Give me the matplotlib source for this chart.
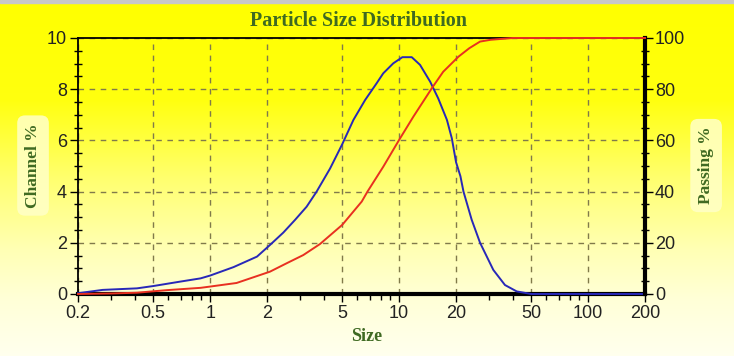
import numpy as np
import matplotlib
matplotlib.use('Agg')
import matplotlib.pyplot as plt
from matplotlib.ticker import MultipleLocator, LogLocator, NullFormatter
from matplotlib.patches import Rectangle

# channel % (left axis, blue)
size_ch = [0.2, 0.27, 0.41, 0.5, 0.69, 0.89, 1.0, 1.33, 1.77, 2.07, 2.44, 2.81, 3.24,
           3.66, 4.31, 5.0, 5.73, 6.61, 7.6, 8.24, 9.31, 10.4, 11.66, 12.9, 14.6, 16.1,
           17.9, 19.0, 20.0, 21.1, 21.9, 24.2, 26.8, 31.5, 36.3, 41.9, 50, 200]
channel = [0.03, 0.16, 0.22, 0.31, 0.48, 0.61, 0.72, 1.05, 1.46, 1.91, 2.40, 2.89, 3.41,
           4.0, 4.9, 5.85, 6.80, 7.58, 8.23, 8.62, 9.01, 9.25, 9.25, 8.95, 8.29, 7.64,
           6.80, 6.08, 5.15, 4.6, 4.0, 2.9, 2.0, 0.94, 0.35, 0.1, 0.0, 0.0]

# passing % (right axis, red)
size_pass = [0.2, 0.3, 0.41, 0.59, 0.89, 1.0, 1.38, 2.07, 2.54, 3.11, 3.81, 5.0, 6.34,
             6.8, 8.24, 10.0, 11.9, 14.9, 17.1, 20.6, 23.5, 26.8, 30.5, 34.2, 40.0, 200]
passing = [0.0, 0.2, 0.5, 1.5, 2.4, 2.9, 4.3, 8.7, 12.0, 15.2, 19.5, 27.0, 36.1,
           40.0, 49.7, 60.2, 69.3, 80.4, 86.8, 92.7, 96.0, 98.6, 99.3, 99.6, 100, 100]

xticks = [0.2, 0.5, 1, 2, 5, 10, 20, 50, 100, 200]
xlabels = ['0.2', '0.5', '1', '2', '5', '10', '20', '50', '100', '200']

label_col = '#3f6a22'
serif = 'Liberation Serif'
sans = 'Liberation Sans'

fig = plt.figure(figsize=(7.34, 3.56), dpi=100)

# yellow -> pale background gradient
bg = fig.add_axes([0, 0, 1, 1], zorder=-10)
rows = np.linspace(0, 1, 356)
blue_ch = np.interp(rows, [0, 0.28, 0.5, 0.7, 0.84, 1.0], [0, 15, 110, 180, 215, 238])
grad = np.zeros((356, 1, 3))
grad[:, 0, 0] = 1.0
grad[:, 0, 1] = 1.0
grad[:, 0, 2] = blue_ch / 255
bg.imshow(grad, aspect='auto', extent=[0, 1, 0, 1])
bg.axis('off')
fig.patches.append(Rectangle((0, 1 - 3 / 356), 1, 3 / 356, transform=fig.transFigure,
                             color='#c8c8c8', zorder=-5))

ax = fig.add_axes([0.1063, 0.1742, 0.7725, 0.7191])
ax.set_facecolor('none')
ax.set_xscale('log')
ax.set_xlim(0.2, 200)
ax.set_ylim(0, 10)

ax.plot(size_ch, channel, color='#2828b8', lw=1.4, zorder=3, clip_on=False)

ax.set_xticks(xticks)
ax.set_xticklabels(xlabels)
ax.xaxis.set_minor_locator(LogLocator(base=10, subs=np.arange(2, 10)))
ax.xaxis.set_minor_formatter(NullFormatter())
ax.yaxis.set_major_locator(MultipleLocator(2))
ax.yaxis.set_minor_locator(MultipleLocator(0.5))

ax.grid(which='major', color='#807a4a', linestyle=(0, (4, 4)), lw=1)
ax.tick_params(which='major', direction='out', length=6, width=1, labelsize=13, pad=2,
               labelcolor='#222222')
ax.tick_params(which='minor', direction='out', length=4, width=1)
ax.tick_params(axis='y', which='minor', direction='inout', length=6)
for lab in ax.get_xticklabels() + ax.get_yticklabels():
    lab.set_fontfamily(sans)

ax.spines['bottom'].set_linewidth(3)
ax.spines['left'].set_linewidth(1.3)
ax.spines['top'].set_linewidth(1.3)
ax.spines['right'].set_visible(False)

ax2 = ax.twinx()
ax2.set_facecolor('none')
ax2.set_ylim(0, 100)
ax2.plot(size_pass, passing, color='#e83020', lw=1.4, zorder=3, clip_on=False)
ax2.yaxis.set_major_locator(MultipleLocator(20))
ax2.yaxis.set_minor_locator(MultipleLocator(5))
ax2.tick_params(which='major', direction='out', length=6, width=1, labelsize=13, pad=1,
                labelcolor='#222222')
ax2.tick_params(which='minor', direction='inout', length=6, width=1)
for lab in ax2.get_yticklabels():
    lab.set_fontfamily(sans)
for s in ['left', 'top', 'bottom']:
    ax2.spines[s].set_visible(False)
ax2.spines['right'].set_linewidth(3)

glow = dict(boxstyle='round,pad=0.45', fc='#ffffc8', ec='none', alpha=0.85)
fig.text(0.488, 0.94, 'Particle Size Distribution', ha='center', va='center',
         fontsize=14.5, fontweight='bold', family=serif, color=label_col)
fig.text(0.045, 0.535, 'Channel %', ha='center', va='center', rotation=90,
         fontsize=12.5, fontweight='bold', family=serif, color=label_col, bbox=glow)
fig.text(0.962, 0.535, 'Passing %', ha='center', va='center', rotation=90,
         fontsize=12.5, fontweight='bold', family=serif, color=label_col, bbox=glow)
fig.text(0.499, 0.055, 'Size', ha='center', va='center',
         fontsize=13, fontweight='bold', family=serif, color=label_col)

fig.savefig('out.png', dpi=100)
